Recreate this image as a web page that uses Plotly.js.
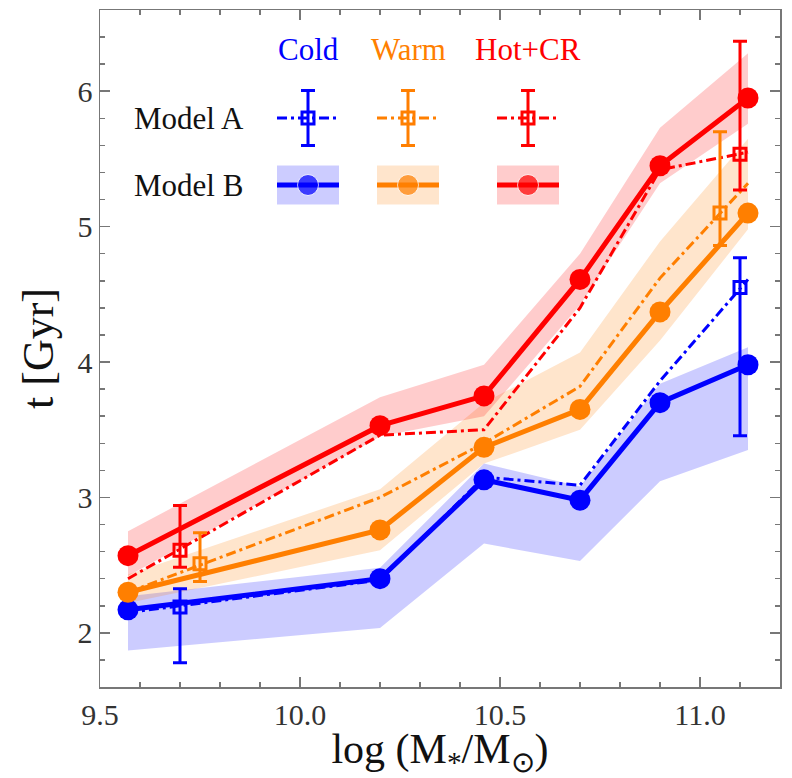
<!DOCTYPE html>
<html>
<head>
<meta charset="utf-8">
<script src="https://cdn.plot.ly/plotly-3.0.1.min.js"></script>
<style>html,body{margin:0;padding:0;background:#fff;}#chart{width:792px;height:778px;}</style>
</head>
<body>
<div id="chart"></div>
<script>
// ---------------- DATA ----------------
const massBins = [9.57, 10.2, 10.46, 10.7, 10.9, 11.12];

// Model B (solid lines with filled circles) and their shaded bands
const coldB = [2.17, 2.40, 3.13, 2.98, 3.70, 3.98];
const warmB = [2.30, 2.76, 3.37, 3.65, 4.37, 5.10];
const hotB  = [2.57, 3.53, 3.75, 4.61, 5.45, 5.95];

const coldBandLow  = [1.87, 2.035, 2.66, 2.53, 3.12, 3.35];
const coldBandHigh = [2.27, 2.48, 3.25, 3.08, 3.84, 4.11];
const warmBandLow  = [2.22, 2.61, 3.25, 3.50, 4.16, 4.98];
const warmBandHigh = [2.43, 3.06, 3.70, 4.07, 4.89, 5.65];
const hotBandLow   = [2.42, 3.45, 3.60, 4.42, 5.32, 5.76];
const hotBandHigh  = [2.75, 3.74, 3.98, 4.80, 5.73, 6.28];

// Model A (dash-dot lines)
const coldA = [2.15, 2.39, 3.15, 3.09, 3.86, 4.61];
const warmA = [2.30, 3.00, 3.40, 3.82, 4.62, 5.32];
const hotA  = [2.40, 3.46, 3.50, 4.40, 5.42, 5.55];

// Model A representative error bars (open squares)
const coldErrX = [9.70, 11.10];
const coldErrY = [2.19, 4.55];
const coldErrHigh = [2.325, 4.77];
const coldErrLow  = [1.78, 3.455];

const warmErrX = [9.75, 11.05];
const warmErrY = [2.51, 5.10];
const warmErrHigh = [2.74, 5.70];
const warmErrLow  = [2.38, 4.86];

const hotErrX = [9.70, 11.10];
const hotErrY = [2.61, 5.535];
const hotErrHigh = [2.94, 6.37];
const hotErrLow  = [2.485, 5.27];

const xTickVals = [9.5, 10.0, 10.5, 11.0];
const xTickText = ['9.5', '10.0', '10.5', '11.0'];
const yTickVals = [2, 3, 4, 5, 6];

const legendHeaders = ['Cold', 'Warm', 'Hot+CR'];
const legendRows = ['Model A', 'Model B'];

// ---------------- STYLE ----------------
const COLORS = {cold: '#0000ff', warm: '#ff7f00', hot: '#ff0000'};
const BANDS = {cold: 'rgba(0,0,255,0.2)', warm: 'rgba(255,127,0,0.2)', hot: 'rgba(255,0,0,0.2)'};
const FONT = 'Liberation Serif';
const DASHA = '10px,4px,3px,4px';

// legend layout (pixel-like coordinates on an overlay axis)
const LEG = {cx: [308, 408, 528], half: 31, headerY: 49, rowAY: 118, rowBY: 185, labelX: 132, errHalf: 27.5, bandHalf: 19.5};

const series = [
  {key: 'cold', B: coldB, lo: coldBandLow, hi: coldBandHigh, A: coldA, ex: coldErrX, ey: coldErrY, eh: coldErrHigh, el: coldErrLow},
  {key: 'warm', B: warmB, lo: warmBandLow, hi: warmBandHigh, A: warmA, ex: warmErrX, ey: warmErrY, eh: warmErrHigh, el: warmErrLow},
  {key: 'hot',  B: hotB,  lo: hotBandLow,  hi: hotBandHigh,  A: hotA,  ex: hotErrX,  ey: hotErrY,  eh: hotErrHigh,  el: hotErrLow}
];

const traces = [];
// bands
series.forEach(s => {
  traces.push({x: massBins, y: s.lo, mode: 'lines', line: {width: 0, color: BANDS[s.key]}, hoverinfo: 'skip', showlegend: false});
  traces.push({x: massBins, y: s.hi, mode: 'lines', line: {width: 0, color: BANDS[s.key]}, fill: 'tonexty', fillcolor: BANDS[s.key], hoverinfo: 'skip', showlegend: false});
});
// model A lines
series.forEach(s => {
  traces.push({x: massBins, y: s.A, mode: 'lines', line: {color: COLORS[s.key], width: 3, dash: DASHA}, showlegend: false});
});
// model B lines
series.forEach(s => {
  traces.push({x: massBins, y: s.B, mode: 'lines+markers', line: {color: COLORS[s.key], width: 5},
    marker: {symbol: 'circle', size: 21, color: COLORS[s.key]}, showlegend: false});
});
// model A error bars
series.forEach(s => {
  traces.push({x: s.ex, y: s.ey, mode: 'markers',
    marker: {symbol: 'square-open', size: 12, color: COLORS[s.key], line: {width: 3, color: COLORS[s.key]}},
    error_y: {type: 'data', symmetric: false,
      array: s.eh.map((v, i) => v - s.ey[i]), arrayminus: s.ey.map((v, i) => v - s.el[i]),
      color: COLORS[s.key], thickness: 3, width: 7},
    showlegend: false});
});

// legend symbols on overlay axes
const shapes = [];
const annotations = [];
series.forEach((s, i) => {
  const cx = LEG.cx[i];
  // Model A symbol
  traces.push({x: [cx - LEG.half, cx + LEG.half], y: [LEG.rowAY, LEG.rowAY], xaxis: 'x2', yaxis: 'y2', mode: 'lines',
    line: {color: COLORS[s.key], width: 3, dash: DASHA}, showlegend: false, hoverinfo: 'skip'});
  traces.push({x: [cx], y: [LEG.rowAY], xaxis: 'x2', yaxis: 'y2', mode: 'markers',
    marker: {symbol: 'square-open', size: 12, color: COLORS[s.key], line: {width: 3, color: COLORS[s.key]}},
    error_y: {type: 'data', array: [LEG.errHalf], color: COLORS[s.key], thickness: 3, width: 7},
    showlegend: false, hoverinfo: 'skip'});
  // Model B symbol
  shapes.push({type: 'rect', xref: 'x2', yref: 'y2', x0: cx - LEG.half, x1: cx + LEG.half,
    y0: LEG.rowBY - LEG.bandHalf, y1: LEG.rowBY + LEG.bandHalf, fillcolor: BANDS[s.key], line: {width: 0}, layer: 'below'});
  traces.push({x: [cx - LEG.half, cx, cx + LEG.half], y: [LEG.rowBY, LEG.rowBY, LEG.rowBY], xaxis: 'x2', yaxis: 'y2', mode: 'lines+markers',
    line: {color: COLORS[s.key], width: 5},
    marker: {symbol: 'circle', size: [0, 21, 0], color: COLORS[s.key]}, showlegend: false, hoverinfo: 'skip'});
  annotations.push({xref: 'x2', yref: 'y2', x: cx, y: LEG.headerY, text: legendHeaders[i], showarrow: false,
    xanchor: 'center', yanchor: 'middle', font: {family: FONT, size: 31, color: COLORS[s.key]}});
});
legendRows.forEach((t, i) => {
  annotations.push({xref: 'x2', yref: 'y2', x: LEG.labelX, y: i === 0 ? LEG.rowAY : LEG.rowBY, text: t, showarrow: false,
    xanchor: 'left', yanchor: 'middle', font: {family: FONT, size: 31, color: '#111'}});
});

const axisCommon = {
  showgrid: false, zeroline: false, showline: true, linecolor: '#777', linewidth: 1.5, mirror: 'allticks',
  ticks: 'inside', ticklen: 10, tickwidth: 1.5, tickcolor: '#777',
  tickfont: {family: FONT, size: 30, color: '#333'}
};

const layout = {
  width: 792, height: 778,
  margin: {l: 100, r: 12, t: 10, b: 91},
  paper_bgcolor: '#fff', plot_bgcolor: '#fff',
  font: {family: FONT},
  showlegend: false,
  xaxis: Object.assign({}, axisCommon, {
    range: [9.5, 11.2], tickvals: xTickVals, ticktext: xTickText,
    minor: {dtick: 0.1, tick0: 9.5, ticks: 'inside', ticklen: 5, tickwidth: 1.5, tickcolor: '#777'},
    title: {text: 'log (M<sub>*</sub>/M<sub>⊙</sub>)', font: {family: FONT, size: 42, color: '#111'}, standoff: 5}
  }),
  yaxis: Object.assign({}, axisCommon, {
    range: [1.6, 6.6], tickvals: yTickVals,
    minor: {dtick: 0.2, tick0: 2, ticks: 'inside', ticklen: 5, tickwidth: 1.5, tickcolor: '#777'},
    title: {text: 't [Gyr]', font: {family: FONT, size: 44, color: '#111'}, standoff: 10}
  }),
  xaxis2: {overlaying: 'x', anchor: 'y2', range: [100, 780], visible: false, fixedrange: true},
  yaxis2: {overlaying: 'y', anchor: 'x2', range: [687, 10], visible: false, fixedrange: true},
  shapes: shapes,
  annotations: annotations
};

Plotly.newPlot('chart', traces, layout, {displayModeBar: false, staticPlot: true});
</script>
</body>
</html>
